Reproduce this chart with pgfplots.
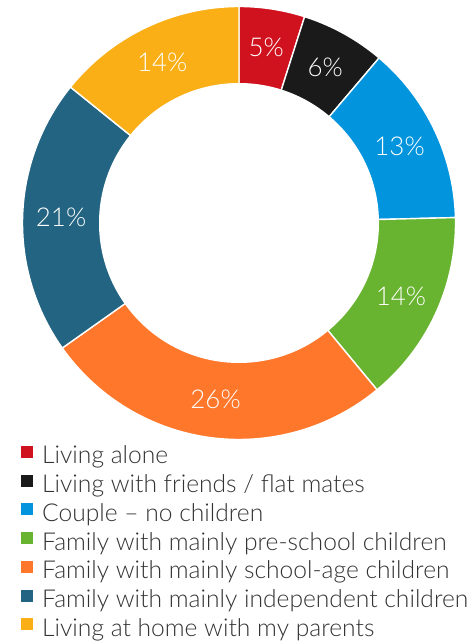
\documentclass[border=0pt]{standalone}
\usepackage{fontspec}
\setmainfont{Lato}[UprightFont={* Light}]
\usepackage{pgfplots}
\pgfplotsset{compat=1.18}
\definecolor{cRed}{HTML}{D0121F}
\definecolor{cBlack}{HTML}{1A1A1A}
\definecolor{cBlue}{HTML}{0294DD}
\definecolor{cGreen}{HTML}{68B32F}
\definecolor{cOrange}{HTML}{FE772B}
\definecolor{cTeal}{HTML}{226482}
\definecolor{cYellow}{HTML}{F9AF15}
\definecolor{cText}{HTML}{333333}

% shares (%), clockwise from 12 o'clock
\def\vA{4.9}  % Living alone
\def\vB{6.3}  % friends / flat mates
\def\vC{13.4} % couple
\def\vD{14.4} % pre-school
\def\vE{26.2} % school-age
\def\vF{20.6} % independent
\def\vG{14.2} % at home with parents
\def\Ro{216.5}
\def\Ri{140}
\def\Rl{178}
\pgfmathsetmacro\aA{90}
\pgfmathsetmacro\aB{\aA-3.6*\vA}
\pgfmathsetmacro\aC{\aB-3.6*\vB}
\pgfmathsetmacro\aD{\aC-3.6*\vC}
\pgfmathsetmacro\aE{\aD-3.6*\vD}
\pgfmathsetmacro\aF{\aE-3.6*\vE}
\pgfmathsetmacro\aG{\aF-3.6*\vF}
\pgfmathsetmacro\aH{\aG-3.6*\vG}

\newcommand\slice[4]{% start, end, colour, legend
  \addplot[fill=#3, draw=white, line width=1.4bp, domain=#2:#1, samples=80]
    ({\Ro*cos(x)},{\Ro*sin(x)}) -- (axis cs:0,0) -- cycle;
  \addlegendentry{#4}
}
\newcommand\plabel[3]{% start, end, text
  \node[text=white, font=\fontsize{26}{26}\selectfont, anchor=center]
    at (axis cs:{\Rl*cos((#1+#2)/2)},{\Rl*sin((#1+#2)/2)}) {#3};
}

\begin{document}
\begin{tikzpicture}
\begin{axis}[
  x=1bp, y=1bp,
  xmin=-239, xmax=233, ymin=-419, ymax=223,
  hide axis, clip=false,
  legend cell align=left,
  legend style={at={(0.0445,0.3053)}, anchor=north west, draw=none, fill=none,
    inner sep=0pt, outer sep=0pt, row sep=6.2bp,
    font=\fontsize{24.7}{26}\selectfont, text=cText,
    nodes={inner sep=0pt, text height=16.5bp, text depth=4.5bp}},
  legend image code/.code={\fill[#1,draw=none] (0bp,0bp) rectangle (12bp,12bp); \path (20.5bp,0bp);},
]
\slice{\aA}{\aB}{cRed}{Living alone}
\slice{\aB}{\aC}{cBlack}{Living with friends / flat mates}
\slice{\aC}{\aD}{cBlue}{Couple – no children}
\slice{\aD}{\aE}{cGreen}{Family with mainly pre-school children}
\slice{\aE}{\aF}{cOrange}{Family with mainly school-age children}
\slice{\aF}{\aG}{cTeal}{Family with mainly independent children}
\slice{\aG}{\aH}{cYellow}{Living at home with my parents}
\fill[white] (axis cs:0,0) circle[radius=\Ri bp];
\plabel{\aA}{\aB}{5\%}
\plabel{\aB}{\aC}{6\%}
\plabel{\aC}{\aD}{13\%}
\plabel{\aD}{\aE}{14\%}
\plabel{\aE}{\aF}{26\%}
\plabel{\aF}{\aG}{21\%}
\plabel{\aG}{\aH}{14\%}
\coordinate (bbl) at (axis cs:-239,-419);
\coordinate (btr) at (axis cs:233,223);
\end{axis}
\pgfresetboundingbox
\path (bbl) rectangle (btr);
\end{tikzpicture}
\end{document}
